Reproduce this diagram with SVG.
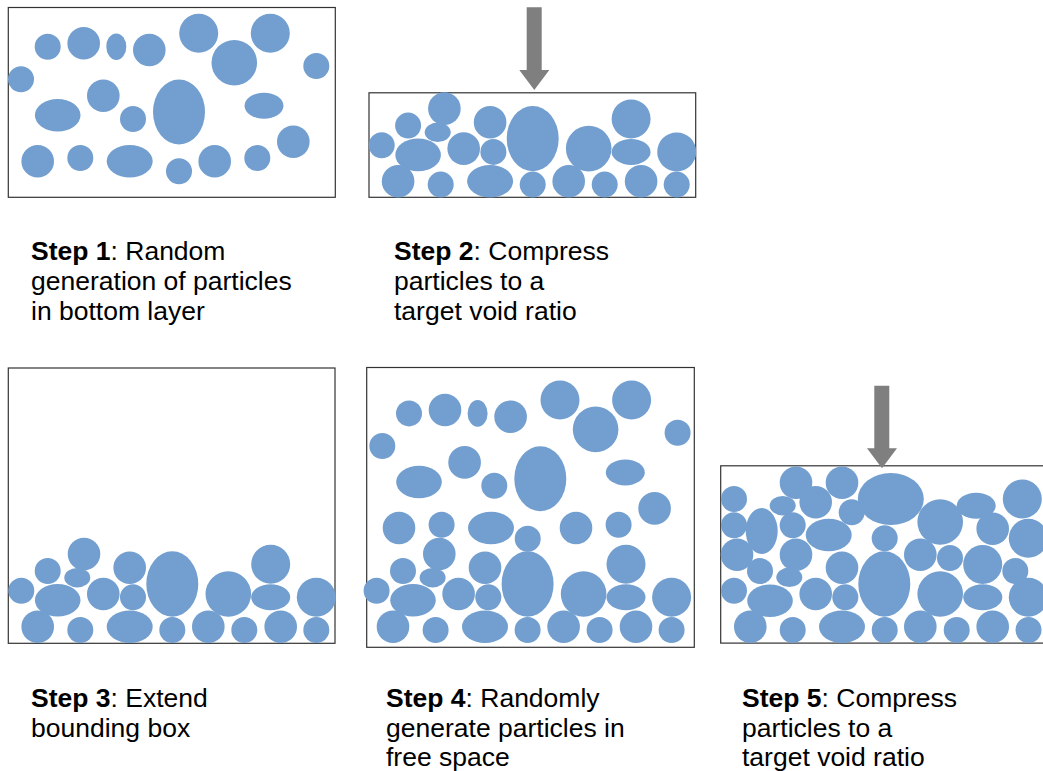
<svg xmlns="http://www.w3.org/2000/svg" xmlns:xlink="http://www.w3.org/1999/xlink" width="1043" height="771" viewBox="0 0 1043 771">
<style>
.box{fill:#fff;stroke:#333;stroke-width:1.2}
.p{fill:#729fcf}
.arr{fill:#7f7f7f}
.t{font-family:"Liberation Sans",Arial,sans-serif;font-size:26.5px;fill:#000}
.b{font-weight:bold}
</style>
<defs>
<g id="topLayer">
<circle class="p" cx="47.7" cy="46.7" r="13"/>
<circle class="p" cx="83.7" cy="43.3" r="16.3"/>
<ellipse class="p" cx="116.3" cy="46.7" rx="10" ry="13.3"/>
<circle class="p" cx="149.3" cy="50" r="16.3"/>
<circle class="p" cx="198.7" cy="33.3" r="19.5"/>
<circle class="p" cx="234.3" cy="62.7" r="22.8"/>
<circle class="p" cx="270.3" cy="33.3" r="19.5"/>
<circle class="p" cx="316.3" cy="66" r="13"/>
<circle class="p" cx="21" cy="79.3" r="13"/>
<circle class="p" cx="103.3" cy="95.7" r="16.3"/>
<ellipse class="p" cx="57.7" cy="115.3" rx="22.8" ry="16.3"/>
<circle class="p" cx="133" cy="119" r="13"/>
<ellipse class="p" cx="179" cy="112" rx="26" ry="32.5"/>
<ellipse class="p" cx="264" cy="105.7" rx="19.5" ry="13"/>
<circle class="p" cx="293.3" cy="141.7" r="16.3"/>
<circle class="p" cx="37.7" cy="161.3" r="16.3"/>
<circle class="p" cx="80.3" cy="158" r="13"/>
<ellipse class="p" cx="129.7" cy="161.3" rx="23" ry="16.3"/>
<circle class="p" cx="214.7" cy="161.3" r="16.3"/>
<circle class="p" cx="257.3" cy="158" r="13"/>
</g>
<g id="bottomLayer">
<circle class="p" cx="84" cy="554" r="16.3"/>
<circle class="p" cx="47.7" cy="571" r="13"/>
<ellipse class="p" cx="77.3" cy="577.7" rx="13" ry="9.7"/>
<circle class="p" cx="129.7" cy="567.7" r="16.3"/>
<ellipse class="p" cx="172.3" cy="584" rx="26" ry="32.7"/>
<circle class="p" cx="270.7" cy="564.3" r="19.5"/>
<circle class="p" cx="21.3" cy="590.7" r="13"/>
<ellipse class="p" cx="57.7" cy="600.3" rx="22.8" ry="16.3"/>
<circle class="p" cx="103.3" cy="594" r="16.3"/>
<circle class="p" cx="133" cy="597.3" r="13"/>
<circle class="p" cx="228.3" cy="594" r="22.8"/>
<ellipse class="p" cx="270.7" cy="597.3" rx="19.5" ry="13"/>
<circle class="p" cx="316.3" cy="597.3" r="19.5"/>
<circle class="p" cx="37.7" cy="626.7" r="16.3"/>
<circle class="p" cx="80.3" cy="630" r="13"/>
<ellipse class="p" cx="129.7" cy="626.7" rx="23" ry="16.3"/>
<circle class="p" cx="172.3" cy="630" r="13"/>
<circle class="p" cx="208.3" cy="626.7" r="16.3"/>
<circle class="p" cx="244.3" cy="630" r="13"/>
<circle class="p" cx="280.7" cy="626.7" r="16.3"/>
<circle class="p" cx="316.3" cy="630" r="13"/>
</g>
</defs>
<rect width="1043" height="771" fill="#fff"/>

<g id="step1">
<rect class="box" x="8.3" y="7.5" width="327" height="189.8"/>
<use xlink:href="#topLayer" href="#topLayer"/>
<circle class="p" cx="179" cy="171.3" r="13"/>
<text class="t" x="31" y="259.5"><tspan class="b">Step 1</tspan>: Random</text>
<text class="t" x="31" y="289.5">generation of particles</text>
<text class="t" x="31" y="319.5">in bottom layer</text>
</g>

<g id="step2">
<rect class="box" x="369" y="92.8" width="326.7" height="104.5"/>
<use xlink:href="#bottomLayer" href="#bottomLayer" transform="translate(360.4,-445.4)"/>
<text class="t" x="394" y="259.5"><tspan class="b">Step 2</tspan>: Compress</text>
<text class="t" x="394" y="289.5">particles to a</text>
<text class="t" x="394" y="319.5">target void ratio</text>
</g>

<g id="step3">
<rect class="box" x="8.3" y="368" width="326.7" height="275.3"/>
<use xlink:href="#bottomLayer" href="#bottomLayer"/>
<text class="t" x="31" y="707.3"><tspan class="b">Step 3</tspan>: Extend</text>
<text class="t" x="31" y="737">bounding box</text>
</g>

<g id="step4">
<rect class="box" x="366.7" y="367.5" width="327.6" height="279.8"/>
<use xlink:href="#topLayer" href="#topLayer" transform="translate(361.3,366.7)"/>
<circle class="p" cx="527.7" cy="538.7" r="13"/>
<use xlink:href="#bottomLayer" href="#bottomLayer" transform="translate(355.3,0)"/>
<text class="t" x="386" y="707.3"><tspan class="b">Step 4</tspan>: Randomly</text>
<text class="t" x="386" y="737">generate particles in</text>
<text class="t" x="386" y="766">free space</text>
</g>

<g id="step5">
<rect class="box" x="720.7" y="465.8" width="340" height="177.3"/>
<circle class="p" cx="796" cy="482.7" r="16.3"/>
<circle class="p" cx="842" cy="482.7" r="16.3"/>
<ellipse class="p" cx="890.8" cy="499" rx="33" ry="26"/>
<circle class="p" cx="1022.3" cy="499" r="19.5"/>
<circle class="p" cx="734" cy="499" r="13"/>
<circle class="p" cx="815.7" cy="502.3" r="16.3"/>
<ellipse class="p" cx="782.7" cy="505.7" rx="13" ry="9.7"/>
<circle class="p" cx="851.7" cy="512.3" r="13"/>
<circle class="p" cx="940.2" cy="522" r="22.8"/>
<ellipse class="p" cx="976.2" cy="505.7" rx="19.5" ry="13"/>
<circle class="p" cx="992.7" cy="528.7" r="16.3"/>
<circle class="p" cx="734" cy="525.3" r="13"/>
<ellipse class="p" cx="761.7" cy="531" rx="16" ry="23"/>
<circle class="p" cx="792.7" cy="525.3" r="13"/>
<ellipse class="p" cx="828.7" cy="535" rx="23" ry="16.3"/>
<circle class="p" cx="884.7" cy="538.3" r="13"/>
<circle class="p" cx="1028.3" cy="538.3" r="19.5"/>
<circle class="p" cx="737" cy="554.7" r="16.3"/>
<circle class="p" cx="796" cy="554.7" r="16.3"/>
<circle class="p" cx="920.3" cy="554.7" r="16.3"/>
<circle class="p" cx="950" cy="558" r="13"/>
<circle class="p" cx="982.7" cy="564.5" r="19.5"/>
<circle class="p" cx="842" cy="567.7" r="16.3"/>
<ellipse class="p" cx="884.3" cy="584" rx="26" ry="32.7"/>
<circle class="p" cx="760" cy="571" r="13"/>
<ellipse class="p" cx="789.3" cy="577.3" rx="13" ry="9.7"/>
<circle class="p" cx="1015.3" cy="571" r="13"/>
<circle class="p" cx="734" cy="590.7" r="13"/>
<circle class="p" cx="815.7" cy="594" r="16.3"/>
<circle class="p" cx="845.3" cy="597.3" r="13"/>
<ellipse class="p" cx="770" cy="600.7" rx="22.8" ry="16.3"/>
<circle class="p" cx="940.2" cy="594" r="22.8"/>
<ellipse class="p" cx="982.8" cy="597.3" rx="19.5" ry="13"/>
<circle class="p" cx="1028.3" cy="597.3" r="19.5"/>
<circle class="p" cx="750.3" cy="626.7" r="16.3"/>
<circle class="p" cx="792.7" cy="630" r="13"/>
<ellipse class="p" cx="842" cy="626.7" rx="23" ry="16.3"/>
<circle class="p" cx="884.7" cy="630" r="13"/>
<circle class="p" cx="920.3" cy="626.7" r="16.3"/>
<circle class="p" cx="956.7" cy="630" r="13"/>
<circle class="p" cx="992.7" cy="626.7" r="16.3"/>
<circle class="p" cx="1028.5" cy="630" r="13"/>
<text class="t" x="742" y="707.3"><tspan class="b">Step 5</tspan>: Compress</text>
<text class="t" x="742" y="737">particles to a</text>
<text class="t" x="742" y="766">target void ratio</text>
</g>

<g id="connectors">
<polygon class="arr" points="526.7,7.3 541.7,7.3 541.7,70 549.3,70 534.3,90 519.3,70 526.7,70"/>
<polygon class="arr" points="874.3,385.7 889.3,385.7 889.3,448.3 897,448.3 882,468.3 867,448.3 874.3,448.3"/>
</g>
</svg>
